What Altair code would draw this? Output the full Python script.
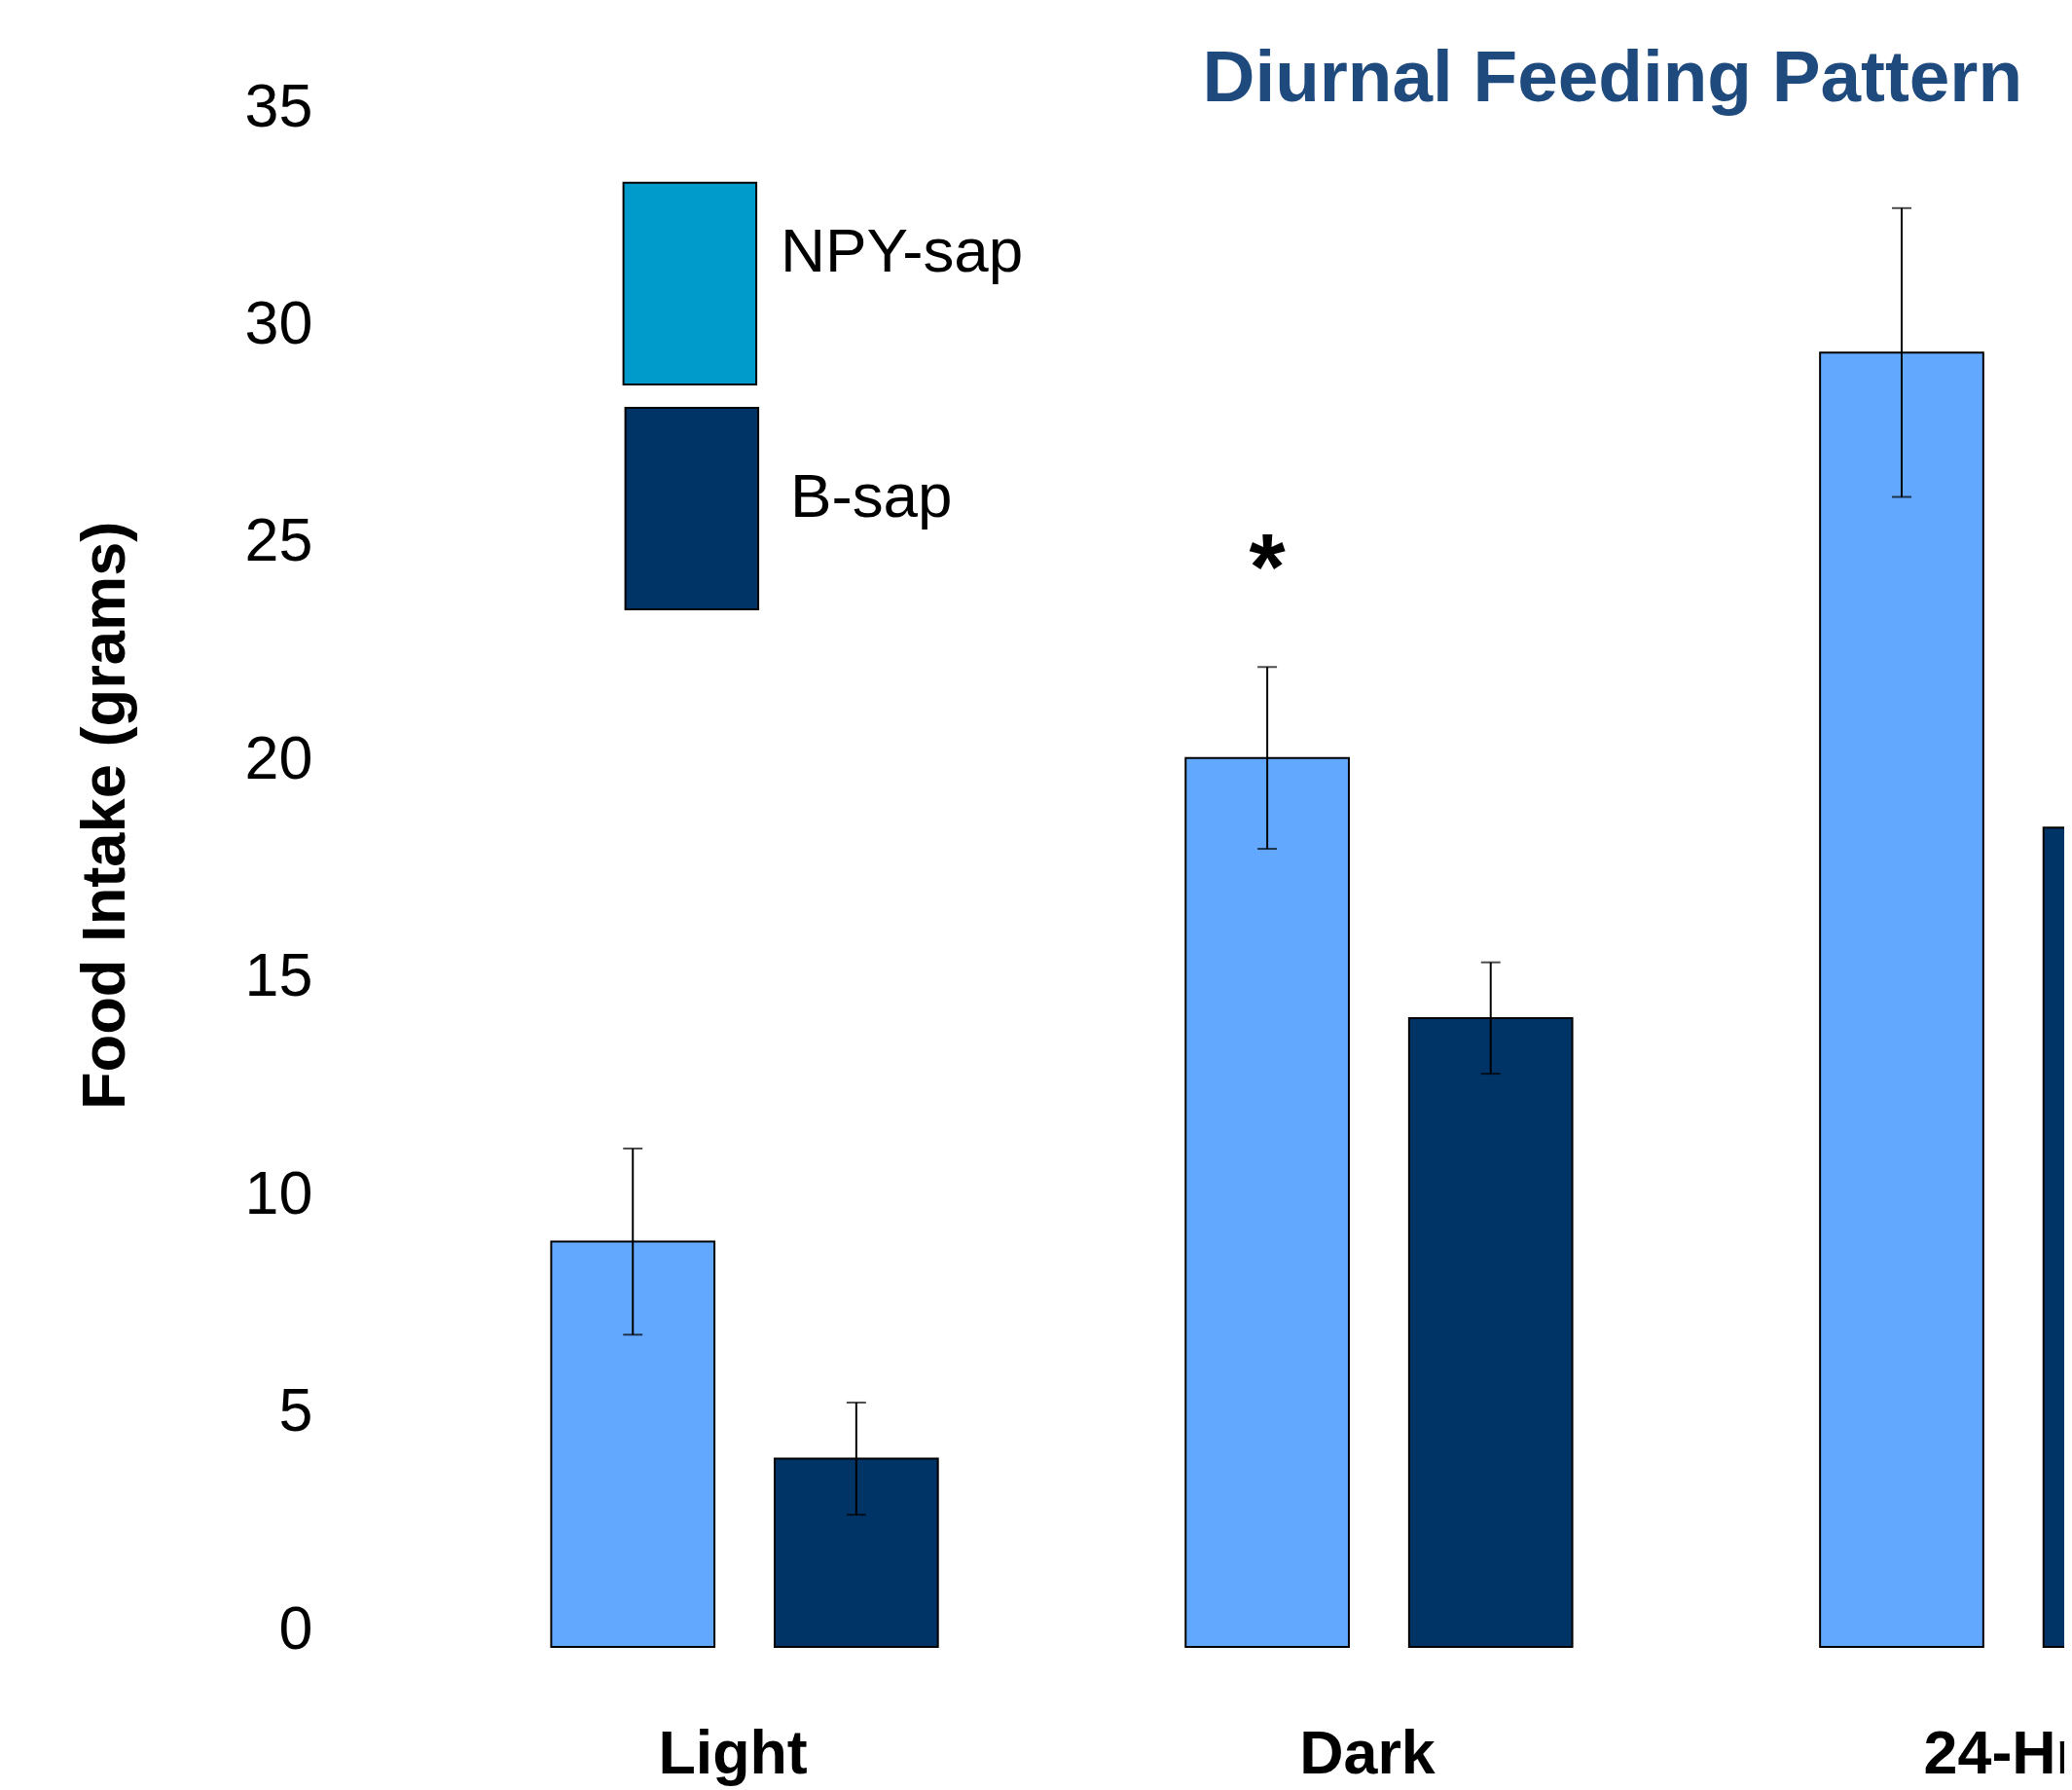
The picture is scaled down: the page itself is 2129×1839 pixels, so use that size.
import altair as alt
import pandas as pd

# ---- data ----
groups = ["Light", "Dark", "24-Hr"]
series_names = ["NPY-sap", "B-sap"]
npy_mean = [9.32, 20.44, 29.76]
npy_sem = [2.14, 2.09, 3.32]
bsap_mean = [4.33, 14.46, 18.84]
bsap_sem = [1.29, 1.28, 1.90]
npy_sig = ["", "*", ""]
y_ticks = [0, 5, 10, 15, 20, 25, 30, 35]
title_text = ["Diurnal Feeding Pattern"]

bar_colors = ["#63A8FF", "#003366"]
legend_colors = ["#009BCB", "#003366"]
FONT = "Liberation Sans"

rows = []
for i, g in enumerate(groups):
    rows.append(dict(group=g, series="NPY-sap", mean=npy_mean[i], sem=npy_sem[i], sig=npy_sig[i]))
    rows.append(dict(group=g, series="B-sap", mean=bsap_mean[i], sem=bsap_sem[i], sig=""))
df = pd.DataFrame(rows)

base = alt.Chart(df).transform_calculate(
    lower="datum.mean - datum.sem", upper="datum.mean + datum.sem"
)

x_enc = alt.X(
    "group:N",
    sort=groups,
    scale=alt.Scale(domain=groups, range=[228.5, 1936], paddingInner=0.3905, paddingOuter=0),
    axis=alt.Axis(
        title=None, labelAngle=0, labelFont=FONT, labelFontSize=63, labelFontWeight="bold",
        labelColor="black", labelPadding=80, labelOffset=-12, labelBaseline="top",
        ticks=False, tickSize=0, domain=False, grid=False,
    ),
)
xoff = alt.XOffset(
    "series:N", sort=series_names,
    scale=alt.Scale(domain=series_names, paddingInner=0.2696, paddingOuter=0),
)
y_scale = alt.Scale(domain=[0, 35], nice=False, zero=True)
y_axis = alt.Axis(
    values=y_ticks, title="Food Intake (grams)", titleFont=FONT, titleFontSize=63.5,
    titleFontWeight="bold", titleColor="black", titleX=-231, titleY=712, titleAngle=270,
    titleAlign="center", titleBaseline="middle",
    labelFont=FONT, labelFontSize=63, labelColor="black", labelPadding=18, labelOffset=-18,
    ticks=False, tickSize=0, domain=False, grid=False,
)

bars = base.mark_bar(stroke="black", strokeWidth=2).encode(
    x=x_enc, xOffset=xoff,
    y=alt.Y("mean:Q", scale=y_scale, axis=y_axis),
    fill=alt.Fill("series:N", scale=alt.Scale(domain=series_names, range=bar_colors), legend=None),
)

rules = base.mark_rule(color="black", strokeWidth=2).encode(
    x=x_enc, xOffset=xoff, y="lower:Q", y2="upper:Q"
)
caps_hi = base.mark_tick(color="black", size=20, thickness=2).encode(
    x=x_enc, xOffset=xoff, y="upper:Q"
)
caps_lo = base.mark_tick(color="black", size=20, thickness=2).encode(
    x=x_enc, xOffset=xoff, y="lower:Q"
)

star = base.transform_filter("datum.sig != ''").mark_text(
    font=FONT, fontSize=96, fontWeight="bold", color="black", dy=-71, baseline="alphabetic"
).encode(x=x_enc, xOffset=xoff, y="upper:Q", text="sig:N")

# ---- legend (drawn by hand, as in the reference: tall swatches beside labels) ----
legend_box = [(303, 440, 60, 268), (305, 442, 292, 500)]   # x, x2, y, y2 in plot pixels
legend_label_pos = [(465, 152), (475, 405)]
legend_layers = []
for i, name in enumerate(series_names):
    ldf = pd.DataFrame({"label": [name]})
    bx = legend_box[i]
    legend_layers.append(
        alt.Chart(ldf).mark_rect(fill=legend_colors[i], stroke="black", strokeWidth=2).encode(
            x=alt.value(bx[0]), x2=alt.value(bx[1]), y=alt.value(bx[2]), y2=alt.value(bx[3])
        )
    )
    lp = legend_label_pos[i]
    legend_layers.append(
        alt.Chart(ldf).mark_text(
            font=FONT, fontSize=64, color="black", align="left", baseline="alphabetic"
        ).encode(text="label:N", x=alt.value(lp[0]), y=alt.value(lp[1]))
    )

title = alt.Chart(pd.DataFrame({"t": title_text})).mark_text(
    font=FONT, fontSize=75, fontWeight="bold", color="#1F4A7E", align="center", baseline="alphabetic"
).encode(text="t:N", x=alt.value(1323), y=alt.value(-24))

chart = alt.layer(bars, rules, caps_hi, caps_lo, star, *legend_layers, title).properties(
    width=1789, height=1570,
    padding={"left": 332, "top": 117, "right": 0, "bottom": 141},
    autosize=alt.AutoSizeParams(type="none"),
    background="white",
).configure_view(stroke=None)

chart.save("out.html", embed_options={"renderer": "svg", "actions": False})
